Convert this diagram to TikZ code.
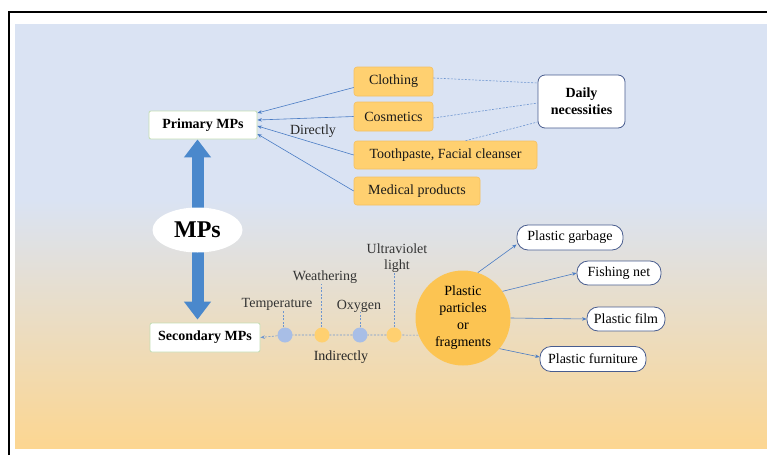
\documentclass[tikz,border=0pt]{standalone}
\usepackage{fontspec}
\setmainfont{Liberation Serif}
\usetikzlibrary{arrows.meta,shapes.geometric}

\definecolor{bgblue}{RGB}{218,227,243}
\definecolor{bgorange}{RGB}{252,214,145}
\definecolor{boxorange}{RGB}{255,208,112}
\definecolor{boxedge}{RGB}{244,192,96}
\definecolor{bigorange}{RGB}{252,196,82}
\definecolor{dotblue}{RGB}{168,190,230}
\definecolor{arrowblue}{RGB}{74,124,196}
\definecolor{thickblue}{RGB}{74,136,204}
\definecolor{greenedge}{RGB}{196,222,180}
\definecolor{navyedge}{RGB}{72,92,142}

\pgfdeclarelayer{canvas}
\pgfdeclarelayer{behind}
\pgfsetlayers{canvas,behind,main}

\tikzset{
  base/.style={font=\fontsize{14}{16.5}\selectfont, inner sep=0pt, align=center},
  mpbox/.style={base, rectangle, rounded corners=2pt, draw=greenedge, fill=white,
    line width=0.8pt, font=\bfseries\fontsize{14}{16.5}\selectfont},
  itembox/.style={base, rectangle, rounded corners=3pt, draw=boxedge, fill=boxorange,
    line width=0.6pt, text=black!90},
  dailybox/.style={base, rectangle, rounded corners=7pt, draw=navyedge, fill=white,
    line width=0.8pt, font=\bfseries\fontsize{14}{17}\selectfont},
  pill/.style={base, rectangle, rounded corners=11pt, draw=navyedge, fill=white,
    line width=0.8pt},
  dot/.style={circle, minimum size=15pt, inner sep=0pt},
  lbl/.style={base, text=black!80},
  link/.style={draw=arrowblue, line width=0.6pt, -{Stealth[length=4.5pt,width=3.5pt]}},
  dashlink/.style={draw=arrowblue!80, line width=0.6pt, dash pattern=on 2pt off 1.5pt},
  bigarrow/.style={draw=thickblue, line width=12pt, -{Triangle[width=26pt,length=18pt]}}
}

\begin{document}
\begin{tikzpicture}[x=1pt,y=-1pt]
\useasboundingbox (0,0) rectangle (767,455);

% background panel and frame
\begin{pgfonlayer}{canvas}
  \fill[bgblue] (15,24) rectangle (767,201);
  \shade[top color=bgblue, bottom color=bgorange] (15,200) rectangle (767,448);
  \draw[line width=1.6pt] (9,455) -- (9,12) -- (767,12);
\end{pgfonlayer}

% central column
\node[mpbox, minimum width=108pt, minimum height=28pt] (prim) at (203,125) {Primary MPs};
\node[mpbox, minimum width=110pt, minimum height=29pt] (sec) at (205,337.5) {Secondary MPs};
\node[ellipse, fill=white, minimum width=90pt, minimum height=45pt, inner sep=0pt,
      font=\bfseries\fontsize{24}{28}\selectfont] (mps) at (197.5,230) {MPs};

\begin{pgfonlayer}{behind}
  \draw[bigarrow] (mps.center) -- (mps.center |- prim.south);
  \draw[bigarrow] (mps.center) -- ([yshift=3pt]mps.center |- sec.north);
\end{pgfonlayer}

% primary sources
\node[itembox, minimum width=79pt, minimum height=29pt] (cloth) at (393.5,81.5) {Clothing};
\node[itembox, minimum width=79pt, minimum height=29pt] (cosm) at (393.5,116.5) {Cosmetics};
\node[itembox, minimum width=183pt, minimum height=28pt] (tooth) at (445.5,155) {Toothpaste, Facial cleanser};
\node[itembox, minimum width=126pt, minimum height=28pt] (med) at (417,191) {Medical products};
\node[dailybox, minimum width=87pt, minimum height=53pt] (daily) at (581.5,101.5) {Daily\\necessities};

\draw[link] ([yshift=-6pt]cloth.west) -- ([yshift=12pt]prim.east);
\draw[link] (cosm.west) -- ([yshift=5pt]prim.east);
\draw[link] (tooth.west) -- ([yshift=-1pt]prim.east);
\draw[link] (med.west) -- ([yshift=-9pt]prim.east);
\node[lbl, text=black!85] (dir) at (313,131) {Directly};

\draw[dashlink] ([yshift=3.5pt]cloth.east) -- ([yshift=18.5pt]daily.west);
\draw[dashlink] ([yshift=-1.5pt]cosm.east) -- ([yshift=-1.5pt]daily.west);
\draw[dashlink] ([xshift=20pt]tooth.north) -- ([yshift=-20.5pt]daily.west);

% secondary sources
\node[circle, fill=bigorange, minimum size=95pt, inner sep=0pt, base,
      font=\fontsize{14}{17}\selectfont] (frag) at (463,318) {Plastic\\particles\\or\\fragments};

\node[dot, fill=dotblue] (d1) at (285,335) {};
\node[dot, fill=boxorange] (d2) at (322,335) {};
\node[dot, fill=dotblue] (d3) at (360,335) {};
\node[dot, fill=boxorange] (d4) at (394,335) {};

\draw[dashlink, -{Stealth[length=4.5pt,width=3.5pt]}]
  (frag.201) -- (d4) -- (d3) -- (d2) -- (d1) -- (sec.east);

\node[lbl] (temp) at (277,304) {Temperature};
\node[lbl] (weath) at (325,277) {Weathering};
\node[lbl] (oxy) at (359,306) {Oxygen};
\node[lbl] (uv) at (397,258) {Ultraviolet\\light};
\node[lbl, text=black!85] (indir) at (341,357) {Indirectly};

\draw[dashlink] ([xshift=-2pt]d1.north) -- ([xshift=-2pt]d1.north |- temp.south);
\draw[dashlink] ([xshift=-1pt]d2.north) -- ([xshift=-1pt]d2.north |- weath.south);
\draw[dashlink] (d3.north) -- (d3.north |- oxy.south);
\draw[dashlink] (d4.north) -- (d4.north |- uv.south);

\node[pill, minimum width=106pt, minimum height=25pt] (garb) at (570,237.5) {Plastic garbage};
\node[pill, minimum width=84pt, minimum height=24pt] (fish) at (619,273) {Fishing net};
\node[pill, minimum width=78pt, minimum height=24pt] (film) at (626,319) {Plastic film};
\node[pill, minimum width=106pt, minimum height=25pt] (furn) at (593,359) {Plastic furniture};

\draw[link] (frag.72) -- ([yshift=-7pt]garb.west);
\draw[link] (frag.34) -- (fish.west);
\draw[link] (frag.east) -- (film.west);
\draw[link] (frag.-40) -- ([yshift=2pt]furn.west);
\end{tikzpicture}
\end{document}
